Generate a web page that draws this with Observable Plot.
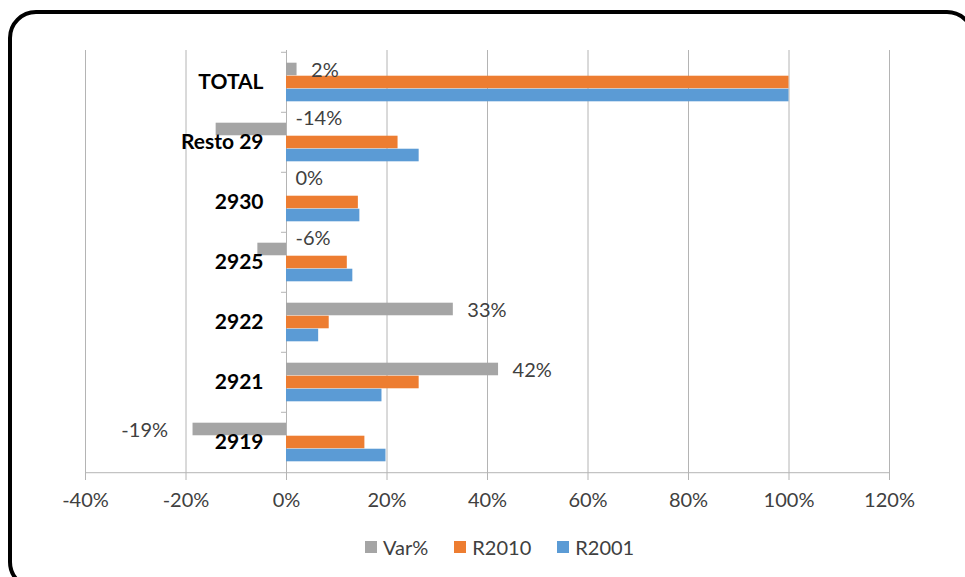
<!DOCTYPE html>
<html>
<head>
<meta charset="utf-8">
<script src="https://cdn.jsdelivr.net/npm/d3@7"></script>
<script src="https://cdn.jsdelivr.net/npm/@observablehq/plot@0.6"></script>
<style>
  html, body { margin: 0; padding: 0; background: #fff; overflow: hidden; }
  #wrap { position: relative; width: 965px; height: 577px; overflow: hidden; background: #fff; }
  #chart { position: absolute; left: 0; top: 0; }
  #frame { position: absolute; left: 8px; top: 10px; width: 967px; height: 580px; box-sizing: border-box;
           border: 4px solid #000; border-radius: 28px; pointer-events: none; }
  #legend { position: absolute; left: 365px; top: 535px; display: flex; align-items: center;
            font-family: Lato, "Open Sans", sans-serif; font-size: 20px; color: #404040; }
  .item { display: flex; align-items: center; margin-right: 26px; }
  .sw { width: 12px; height: 12px; margin-right: 6px; }
</style>
</head>
<body>
<div id="wrap">
  <div id="chart"></div>
  <div id="legend"></div>
  <div id="frame"></div>
</div>
<script>
const categories = ["TOTAL", "Resto 29", "2930", "2925", "2922", "2921", "2919"];
const varPct = [0.021, -0.140, 0.0, -0.057, 0.332, 0.422, -0.186];
const r2010 = [1.0, 0.222, 0.143, 0.121, 0.085, 0.264, 0.156];
const r2001 = [1.0, 0.264, 0.146, 0.132, 0.064, 0.190, 0.198];
const xTicks = [-0.4, -0.2, 0, 0.2, 0.4, 0.6, 0.8, 1.0, 1.2];
const seriesNames = ["Var%", "R2010", "R2001"];
const seriesColors = ["#A5A5A5", "#ED7D31", "#5B9BD5"];

const data = categories.map((c, i) => ({cat: c, v: varPct[i], r2010: r2010[i], r2001: r2001[i]}));

const W = 965, H = 520, mt = 50, mb = 47, ml = 85, mr = 76;
const bw = (H - mt - mb) / categories.length;
const g = bw * 0.177;
const b = (bw - 2 * g) / 3;
const zeroPx = ml + (0 - xTicks[0]) / (xTicks[xTicks.length - 1] - xTicks[0]) * (W - ml - mr);
const grid = "#b4b4b4";
const pct = d => Math.round(d * 100) + "%";
const barDy = -(bw / 2 - g - b / 2) + 1;

const chart = Plot.plot({
  width: W, height: H,
  marginTop: mt, marginBottom: mb, marginLeft: ml, marginRight: mr,
  style: {fontFamily: "Lato, 'Open Sans', sans-serif", fontSize: "20px", color: "#404040", background: "transparent"},
  x: {domain: [xTicks[0], xTicks[xTicks.length - 1]], axis: null, label: null},
  y: {domain: categories, padding: 0, axis: null, label: null},
  marks: [
    Plot.gridX(xTicks, {stroke: grid, strokeOpacity: 1}),
    Plot.ruleY([categories[categories.length - 1]], {dy: bw / 2, stroke: grid}),
    Plot.axisY(categories, {anchor: "left", tickSize: 5, tickFormat: () => "", label: null, dy: -bw / 2, dx: zeroPx - ml, stroke: grid}),
    Plot.axisX(xTicks, {anchor: "bottom", tickSize: 7, tickPadding: 12, tickFormat: pct, label: null, stroke: grid, fill: "#404040", fontSize: 20}),
    Plot.barX(data, {x: "v", y: "cat", fill: seriesColors[0], insetTop: g, insetBottom: bw - g - b}),
    Plot.barX(data, {x: "r2010", y: "cat", fill: seriesColors[1], insetTop: g + b, insetBottom: bw - g - 2 * b}),
    Plot.barX(data, {x: "r2001", y: "cat", fill: seriesColors[2], insetTop: g + 2 * b, insetBottom: g}),
    Plot.text(data.filter(d => d.v > 0), {x: "v", y: "cat", text: d => pct(d.v), dx: 14, dy: barDy, textAnchor: "start", fill: "#404040", fontSize: 20}),
    Plot.text(data.filter(d => d.v <= 0 && d.v > -0.15), {x: 0, y: "cat", text: d => pct(d.v), dx: 9, dy: barDy - 12, textAnchor: "start", fill: "#404040", fontSize: 20}),
    Plot.text(data.filter(d => d.v <= -0.15), {x: "v", y: "cat", text: d => pct(d.v), dx: -25, dy: barDy, textAnchor: "end", fill: "#404040", fontSize: 20}),
    Plot.text(categories, {x: 0, y: d => d, text: d => d, dx: -23, textAnchor: "end", fontWeight: "bold", fill: "#000", fontSize: 21})
  ]
});
document.getElementById("chart").appendChild(chart);

const legend = document.getElementById("legend");
seriesNames.forEach((n, i) => {
  const item = document.createElement("div");
  item.className = "item";
  const sw = document.createElement("div");
  sw.className = "sw";
  sw.style.background = seriesColors[i];
  const t = document.createElement("span");
  t.textContent = n;
  item.appendChild(sw);
  item.appendChild(t);
  legend.appendChild(item);
});
</script>
</body>
</html>
